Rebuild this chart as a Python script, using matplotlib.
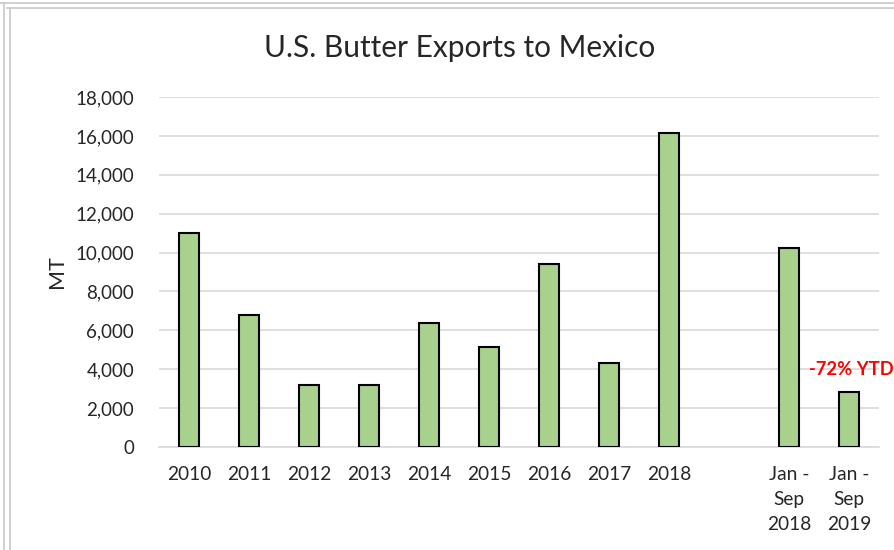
import matplotlib.pyplot as plt
from matplotlib.lines import Line2D

categories = ["2010", "2011", "2012", "2013", "2014", "2015", "2016", "2017", "2018",
              "", "Jan -\nSep\n2018", "Jan -\nSep\n2019"]
values = [11000, 6800, 3200, 3200, 6400, 5150, 9400, 4300, 16150, 0, 10250, 2830]
yticks = list(range(0, 18001, 2000))

plt.rcParams['font.family'] = ['Lato', 'DejaVu Sans']

fig = plt.figure(figsize=(8.95, 5.5), dpi=100)
ax = fig.add_axes([0.1777, 0.1873, 0.8045, 0.6363])

x = list(range(len(categories)))
heights = [v if c else 0 for v, c in zip(values, categories)]
bars = ax.bar(x, heights, width=0.33, color='#a9d18e', edgecolor='black', linewidth=1.5, zorder=3)
# blank slot between the yearly and the year-to-date bars
bars[9].set_visible(False)

ax.set_xlim(-0.5, len(categories) - 0.5)
ax.set_ylim(0, 18000)
ax.set_yticks(yticks)
ax.set_yticklabels([f"{t:,}" for t in yticks], fontsize=13.5, color='#262626')
ax.set_xticks(x)
ax.set_xticklabels(categories, fontsize=13.8, color='#262626', linespacing=1.55, va='top')
ax.tick_params(axis='both', length=0)
ax.tick_params(axis='x', pad=14)
ax.tick_params(axis='y', pad=18)

ax.grid(axis='y', color='#d9d9d9', linewidth=1.2, zorder=0)
for s in ['top', 'right', 'left']:
    ax.spines[s].set_visible(False)
ax.spines['bottom'].set_color('#d9d9d9')
ax.spines['bottom'].set_linewidth(1.2)

ax.set_ylabel("MT", fontsize=15.5, color='#262626', labelpad=6)
fig.text(0.513, 0.912, "U.S. Butter Exports to Mexico", ha='center', va='center',
         fontsize=21.5, color='#262626')

ax.text(10.33, 4000, "-72% YTD", color='#ff0000', fontsize=13.2, fontweight='bold',
        ha='left', va='center', clip_on=False)

# chart frame lines
for coords in [([0.0, 1.0], [0.995, 0.995]), ([0.008, 1.0], [0.985, 0.985]),
               ([0.004, 0.004], [0.0, 0.995]), ([0.011, 0.011], [0.0, 0.985])]:
    fig.add_artist(Line2D(coords[0], coords[1], color='#c8c8c8', linewidth=1.2))

fig.savefig("out.png", dpi=100)
